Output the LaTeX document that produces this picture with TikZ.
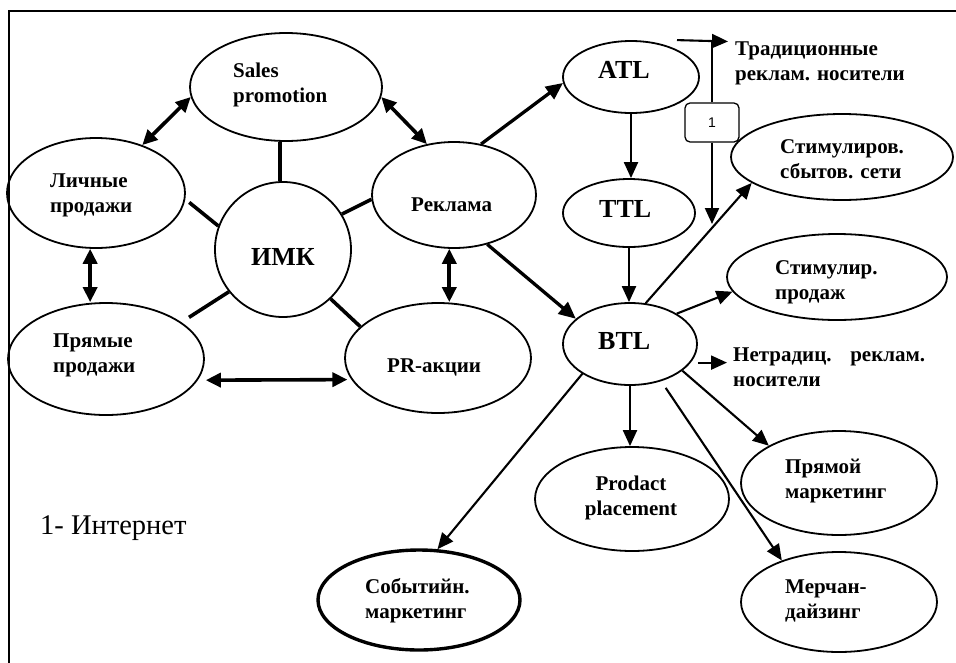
\documentclass[tikz,border=0pt]{standalone}
\usepackage{fontspec}
\setmainfont{Liberation Serif}
\newfontfamily\arialfont{Liberation Sans}
\usetikzlibrary{shapes.geometric,arrows.meta,calc}
\begin{document}
\begin{tikzpicture}[x=1pt,y=-1pt]
\tikzset{
  ell/.style={draw, ellipse, line width=1.8pt, inner sep=0pt},
  lab/.style={inner sep=0pt, font=\bfseries\fontsize{21}{25}\selectfont, align=left, anchor=base west},
  biglab/.style={inner sep=0pt, font=\bfseries\fontsize{26}{30}\selectfont, anchor=base west},
  dbl/.style={line width=3.6pt, {Triangle[length=15pt,width=14pt]}-{Triangle[length=15pt,width=14pt]}},
  con/.style={line width=3.6pt},
  thk/.style={line width=3.3pt, -{Triangle[length=17pt,width=15pt]}},
  arr/.style={line width=2.1pt, -{Triangle[length=16pt,width=14pt]}},
}
\useasboundingbox (0,0) rectangle (956,662);
\clip (0,0) rectangle (956,662);
\fill[white] (0,0) rectangle (956,662);
% frame
\draw[line width=1.3pt] (9,700) -- (9,11) -- (1000,11);

% ellipses
\node[ell, minimum width=192pt, minimum height=108pt] (sp) at (286,87) {};
\node[ell, minimum width=178pt, minimum height=110pt] (lp) at (96,193) {};
\node[ell, minimum width=136pt, minimum height=135pt] (imk) at (283,249.5) {};
\node[ell, minimum width=164pt, minimum height=106pt] (rek) at (454,195) {};
\node[ell, minimum width=196pt, minimum height=112pt] (pp) at (106,359) {};
\node[ell, minimum width=186pt, minimum height=110pt] (pr) at (438,358) {};
\node[ell, minimum width=136pt, minimum height=72pt] (atl) at (631,77) {};
\node[ell, minimum width=132pt, minimum height=68pt] (ttl) at (629,213) {};
\node[ell, minimum width=134pt, minimum height=82pt] (btl) at (630,344) {};
\node[ell, minimum width=222pt, minimum height=86pt] (ssc) at (842,157) {};
\node[ell, minimum width=220pt, minimum height=86pt] (spr) at (837,277) {};
\node[ell, minimum width=194pt, minimum height=104pt] (ppl) at (632,499) {};
\node[ell, minimum width=196pt, minimum height=104pt] (pm) at (839,483) {};
\node[ell, minimum width=196pt, minimum height=100pt] (mer) at (839,602) {};
\node[ell, line width=3.4pt, minimum width=202pt, minimum height=100pt] (sob) at (419,600) {};

% labels (anchor = baseline of last line)
\node[lab] (sp-t) at (233,102) {Sales\\promotion};
\node[lab] (lp-t) at (50,212) {Личные\\продажи};
\node[lab] (pp-t) at (53,372) {Прямые\\продажи};
\node[lab] (rek-t) at (411,211) {Реклама};
\node[lab] (pr-t) at (387,372) {PR-акции};
\node[biglab] (imk-t) at (251,265) {ИМК};
\node[biglab] (atl-t) at (598,78) {ATL};
\node[biglab] (ttl-t) at (599,217) {TTL};
\node[biglab] (btl-t) at (598,349) {BTL};
\node[lab] (trad) at (735,80) {Традиционные\\реклам. носители};
\node[lab] (ssc-t) at (780,178) {Стимулиров.\\сбытов. сети};
\node[lab] (spr-t) at (775,299) {Стимулир.\\продаж};
\node[lab] (netr) at (733,386) {\hbox to 192pt{Нетрадиц.\hfil реклам.}\\носители};
\node[lab, align=center, anchor=base] (ppl-t) at (631,515) {Prodact\\placement};
\node[lab] (pm-t) at (785,498) {Прямой\\маркетинг};
\node[lab] (mer-t) at (785,618) {Мерчан-\\дайзинг};
\node[lab] (sob-t) at (365,618) {Событийн.\\маркетинг};
\node[inner sep=0pt, anchor=base west, font=\fontsize{28.5}{32}\selectfont] (inet) at (40,534) {1- Интернет};

% box 1
\node[draw, rounded corners=5pt, line width=1.3pt, minimum width=54pt, minimum height=39pt, inner sep=0pt, font=\arialfont\fontsize{14}{16}\selectfont] (one) at (712,122.5) {1};

% left cluster
\draw[dbl] (lp.46) -- (sp.186);
\draw[dbl] (sp.354) -- (rek.118);
\draw[con] (sp.264) -- (sp.264 |- imk.north);
\draw[con, shorten <=5pt] (lp.356) -- (imk.160);
\draw[con] (imk.31) -- (rek.183);
\draw[con, shorten >=9pt] (imk.218) -- (pp.26);
\draw[con] (imk.314) -- (pr.158);
\draw[dbl] (lp.264) -- (lp.264 |- pp.north);
\draw[dbl] (rek.265) -- (rek.265 |- pr.north);
\draw[dbl, shorten <=8pt, shorten >=4pt] (pp.347) -- (pr.194);

% to ATL / BTL
\draw[thk] (rek.62) -- (atl.185);
\draw[thk] (rek.304) -- (btl.155);
\draw[arr] (atl.south) -- (atl.south |- ttl.north);
\draw[arr] (ttl.south) -- (ttl.south |- btl.north);

% traditional media + internet
\coordinate (tradtip) at (728,41.5);
\draw[arr] ([xshift=46pt]atl.north) -- (tradtip);
\draw[line width=2pt] (one.north) -- (one.north |- tradtip);
\coordinate (jn) at (712,224);
\draw[arr] (one.south) -- (jn);

% from BTL
\draw[arr] (btl.69) -- (ssc.196);
\draw[arr] (btl.33) -- (spr.188);
\draw[arr, shorten <=7pt, shorten >=6pt] (btl.343) -- (btl.343 -| netr.west);
\draw[arr] (btl.south) -- (btl.south |- ppl.north);
\draw[arr] (btl.333) -- (pm.152);
\draw[arr, shorten <=8pt] (btl.310) -- (mer.144);
\draw[arr] (btl.212) -- (sob.70);
\end{tikzpicture}
\end{document}
